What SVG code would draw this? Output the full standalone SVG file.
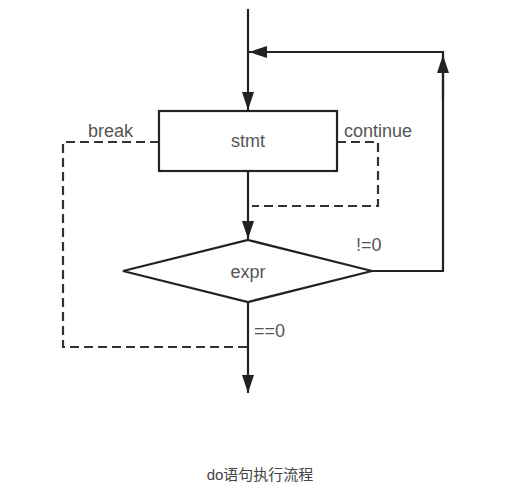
<svg xmlns="http://www.w3.org/2000/svg" width="518" height="484" viewBox="0 0 518 484">
<defs>
<marker id="ah" viewBox="0 0 18 12" refX="18" refY="6" markerWidth="18" markerHeight="13" markerUnits="userSpaceOnUse" orient="auto">
<path d="M0,0 L18,6 L0,12 Z" fill="#222"/>
</marker>
<style>
.ln{fill:none;stroke:#222;stroke-width:2.2}
.ds{fill:none;stroke:#333;stroke-width:2.2;stroke-dasharray:9,5}
.sh{fill:#fff;stroke:#222;stroke-width:2.2}
.t{font-family:"Liberation Sans",Arial,sans-serif;font-size:18px;fill:#555}
.c{font-family:"Liberation Sans","Noto Sans CJK SC",sans-serif;font-size:15px;fill:#444}
</style>
</defs>
<rect width="518" height="484" fill="#fff"/>
<g id="connectors">
<line class="ln" x1="248" y1="9" x2="248" y2="110" marker-end="url(#ah)"/>
<line class="ln" x1="248" y1="171" x2="248" y2="239" marker-end="url(#ah)"/>
<polyline class="ln" points="372,271 443,271 443,52 249,52" marker-end="url(#ah)"/>
<line class="ln" x1="443" y1="100" x2="443" y2="55" marker-end="url(#ah)"/>
<line class="ln" x1="248" y1="302" x2="248" y2="393" marker-end="url(#ah)"/>
<polyline class="ds" points="159,142 63,142 63,347 248,347"/>
<polyline class="ds" points="337,142 378,142 378,206 252,206"/>
<text class="t" x="88" y="137">break</text>
<text class="t" x="344" y="137">continue</text>
<text class="t" x="356" y="251">!=0</text>
<text class="t" x="254" y="337">==0</text>
</g>
<g id="stmt">
<rect class="sh" x="159" y="111" width="178" height="60"/>
<text class="t" x="248" y="147" text-anchor="middle">stmt</text>
</g>
<g id="expr">
<polygon class="sh" points="248,240 372,271 248,302 123,271"/>
<text class="t" x="248" y="278" text-anchor="middle">expr</text>
</g>
<text class="c" x="260" y="480" text-anchor="middle">do语句执行流程</text>
</svg>
